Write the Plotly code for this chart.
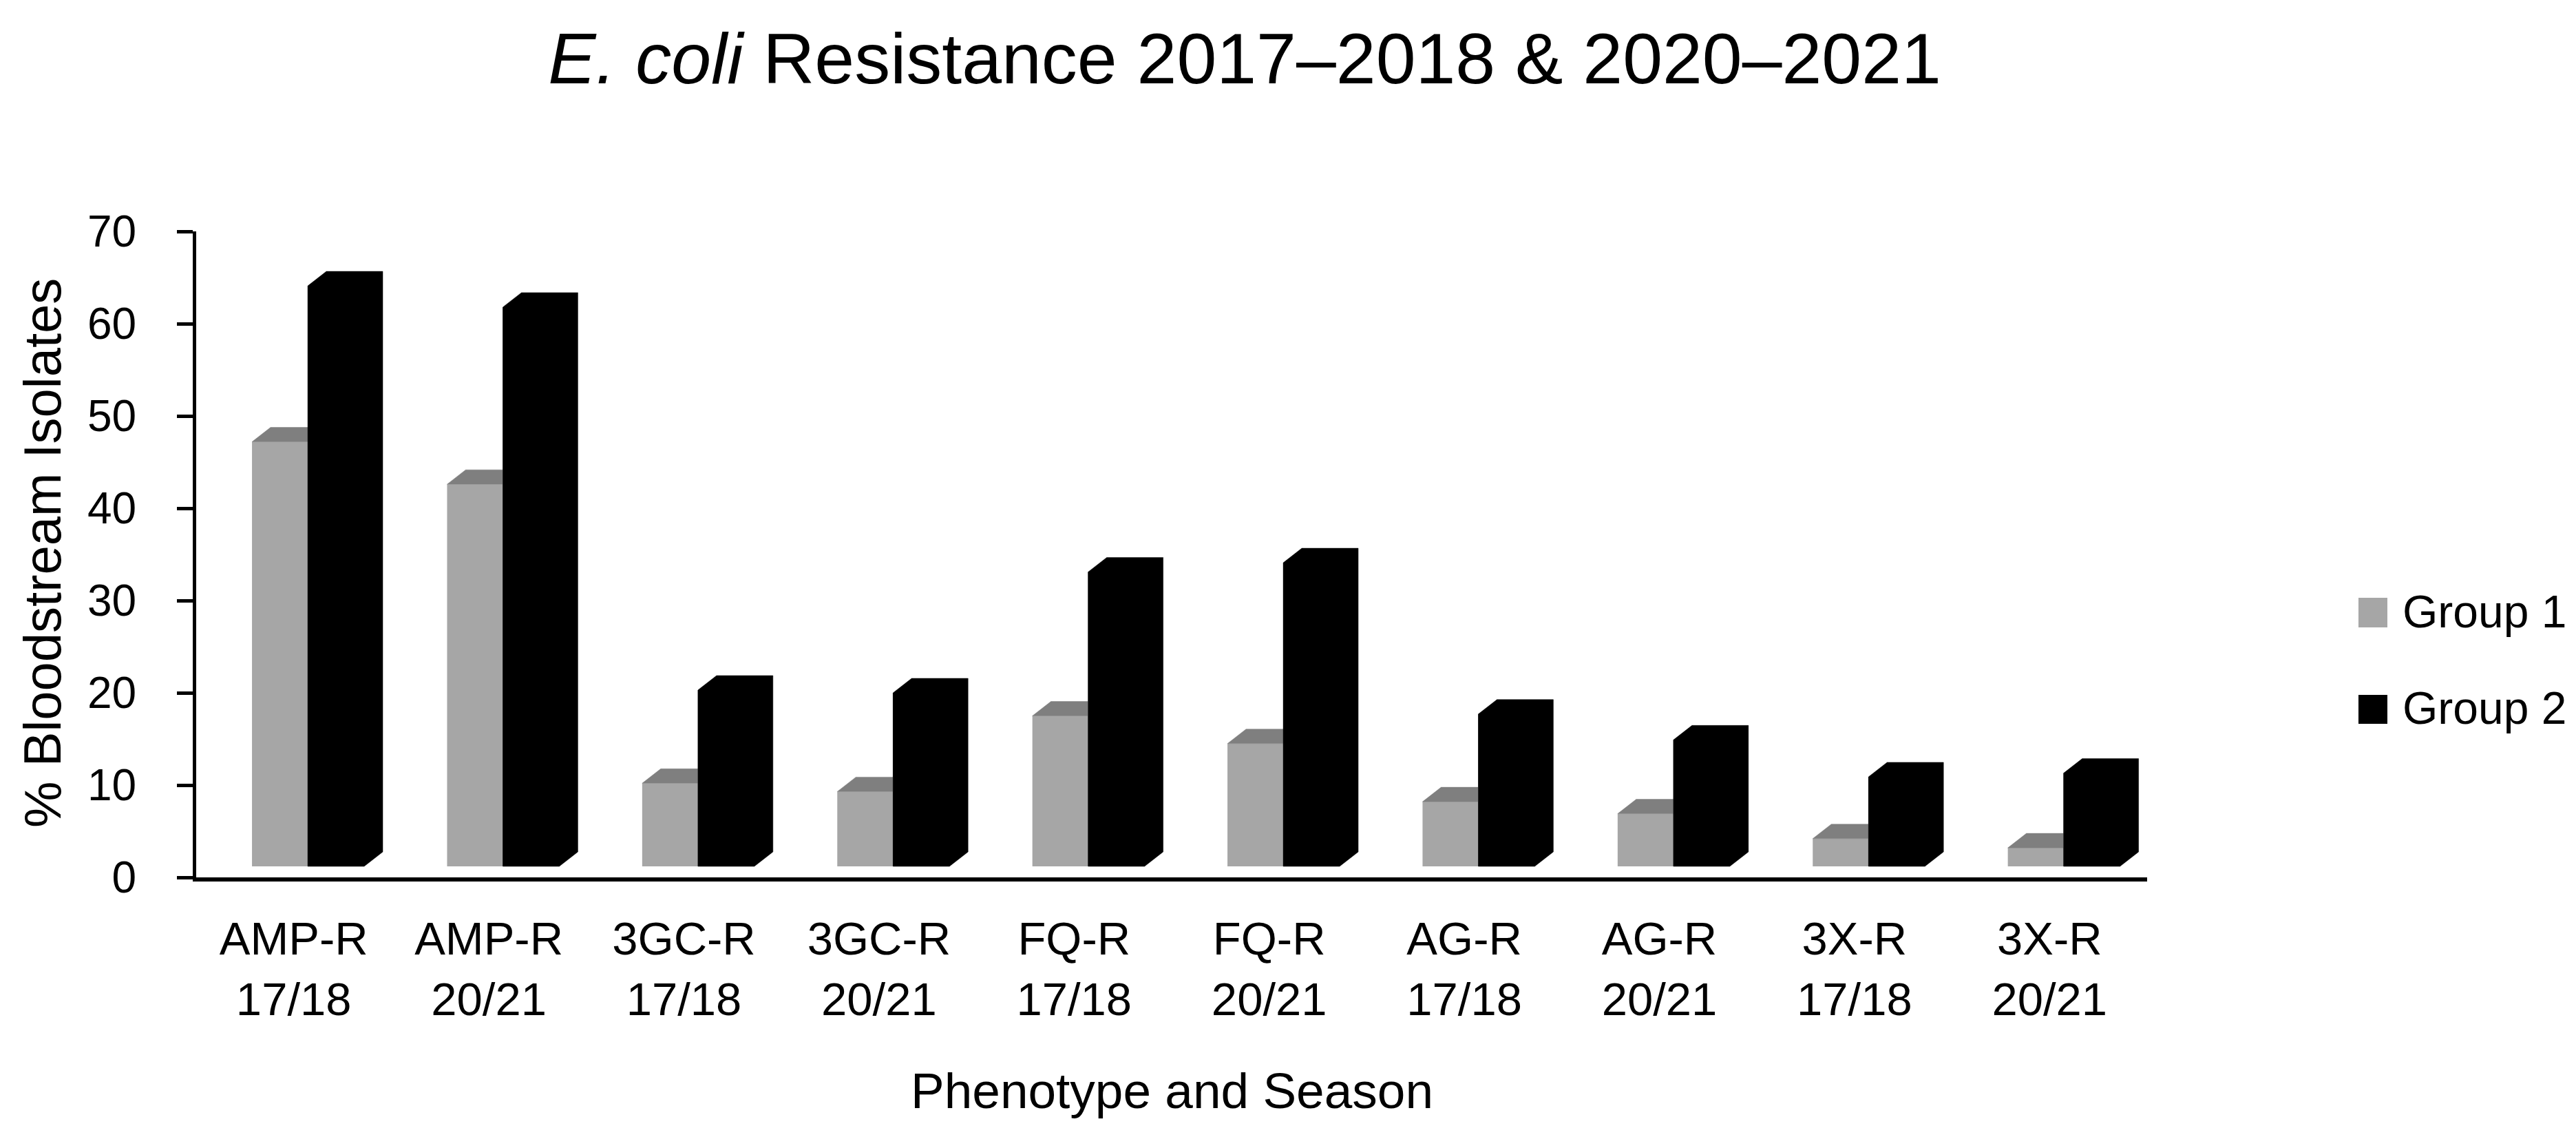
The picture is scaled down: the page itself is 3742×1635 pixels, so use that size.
import plotly.graph_objects as go

# ---------------- data ----------------
categories = ["AMP-R<br>17/18", "AMP-R<br>20/21", "3GC-R<br>17/18", "3GC-R<br>20/21",
              "FQ-R<br>17/18", "FQ-R<br>20/21", "AG-R<br>17/18", "AG-R<br>20/21",
              "3X-R<br>17/18", "3X-R<br>20/21"]
group1 = [47.2, 42.6, 10.2, 9.3, 17.5, 14.5, 8.2, 6.9, 4.2, 3.2]
group2 = [64.1, 61.8, 20.3, 20.0, 33.1, 34.1, 17.7, 14.9, 10.9, 11.3]
series_names = ["Group 1", "Group 2"]
y_ticks = [0, 10, 20, 30, 40, 50, 60, 70]

title_text = "<i>E. coli</i> Resistance 2017\u20132018 & 2020\u20132021"
x_title = "Phenotype and Season"
y_title = "% Bloodstream Isolates"

# ---------------- style / layout constants ----------------
W, H = 3742, 1635
PL, PR, PT, PB = 277, 3111, 328, 1266          # plot area in pixels
YMAX = 70
FONT = "Liberation Sans, Arial, sans-serif"
C_G1, C_G1_TOP, C_G2 = "#A6A6A6", "#7F7F7F", "#000000"

n = len(categories)
cat_px = (PR - PL) / n
px_per_unit = (PB - PT) / YMAX

# pseudo-3D geometry (fractions of a category / value units)
o1, w1 = -0.214, 0.286      # group 1 front face
o2, w2 = 0.072, 0.289       # group 2 front face
dx = 27 / cat_px            # depth shift right
dy = 21 / px_per_unit       # depth shift up
floor = 16 / px_per_unit    # front floor offset

xs_idx = list(range(n))


def px_x(p):
    return (p - PL) / (PR - PL)


def px_y(p):
    return (PB - p) / (PB - PT)


fig = go.Figure()

# front faces (library bars)
fig.add_trace(go.Bar(
    x=xs_idx, y=[v - floor for v in group1], base=floor, offset=o1, width=w1,
    marker=dict(color=C_G1, line=dict(width=0)), name=series_names[0],
    showlegend=False, customdata=group1, hovertemplate="%{customdata}<extra>Group 1</extra>"))
fig.add_trace(go.Bar(
    x=xs_idx, y=[v - floor for v in group2], base=floor, offset=o2, width=w2,
    marker=dict(color=C_G2, line=dict(width=0)), name=series_names[1],
    showlegend=False, customdata=group2, hovertemplate="%{customdata}<extra>Group 2</extra>"))

# group 1 top faces
tx, ty = [], []
for i, v in zip(xs_idx, group1):
    a, b = i + o1, i + o2
    tx += [a, a + dx, b, b, a, None]
    ty += [v, v + dy, v + dy, v, v, None]
fig.add_trace(go.Scatter(x=tx, y=ty, mode="lines", fill="toself", fillcolor=C_G1_TOP,
                         line=dict(width=0.5, color=C_G1_TOP), hoverinfo="skip", showlegend=False))

# group 2 solid prisms (front + top + side)
bx, by = [], []
for i, v in zip(xs_idx, group2):
    a, b = i + o2, i + o2 + w2
    bx += [a, b, b + dx, b + dx, a + dx, a, a, None]
    by += [floor, floor, floor + dy, v + dy, v + dy, v, floor, None]
fig.add_trace(go.Scatter(x=bx, y=by, mode="lines", fill="toself", fillcolor=C_G2,
                         line=dict(width=0.5, color=C_G2), hoverinfo="skip", showlegend=False))

# ---------------- custom legend ----------------
legend_rows = [(C_G1, series_names[0], 860, 903), (C_G2, series_names[1], 1001, 1043)]
shapes, annotations = [], []
for col, name, y0, y1 in legend_rows:
    shapes.append(dict(type="rect", xref="paper", yref="paper",
                       x0=px_x(3418), x1=px_x(3460), y0=px_y(y1), y1=px_y(y0),
                       fillcolor=col, line=dict(width=0)))
    annotations.append(dict(text=name, xref="paper", yref="paper", x=px_x(3480),
                            y=px_y((y0 + y1) / 2 - 2), xanchor="left", yanchor="middle",
                            showarrow=False, font=dict(family=FONT, size=66, color="black")))

# axis titles
annotations.append(dict(text=x_title, xref="paper", yref="paper", x=0.5, y=px_y(1575),
                        xanchor="center", yanchor="middle", showarrow=False,
                        font=dict(family=FONT, size=73, color="black")))
annotations.append(dict(text=y_title, xref="paper", yref="paper", x=px_x(53), y=px_y(795),
                        xanchor="center", yanchor="middle", textangle=-90, showarrow=False,
                        font=dict(family=FONT, size=76, color="black")))

fig.update_layout(
    width=W, height=H,
    margin=dict(l=PL, r=W - PR, t=PT, b=H - PB, pad=0),
    paper_bgcolor="white", plot_bgcolor="white",
    barmode="overlay", showlegend=False,
    title=dict(text=title_text, x=1800 / W, xanchor="center", xref="container",
               y=1 - 77 / H, yanchor="middle", yref="container",
               font=dict(family=FONT, size=104, color="black")),
    font=dict(family=FONT, color="black"),
    shapes=shapes, annotations=annotations,
)
fig.update_xaxes(range=[-0.5, n - 0.5], tickvals=xs_idx, ticktext=categories, ticks="",
                 showgrid=False, zeroline=False, showline=True, linewidth=6, linecolor="black",
                 tickfont=dict(family=FONT, size=67, color="black"), ticklabelstandoff=26)
fig.update_yaxes(range=[0, YMAX], tickvals=y_ticks, ticks="outside", ticklen=23, tickwidth=5,
                 tickcolor="black", showgrid=False, zeroline=False, showline=True, linewidth=5,
                 linecolor="black", tickfont=dict(family=FONT, size=64, color="black"),
                 ticklabelstandoff=46)

fig.write_html("out.html")
